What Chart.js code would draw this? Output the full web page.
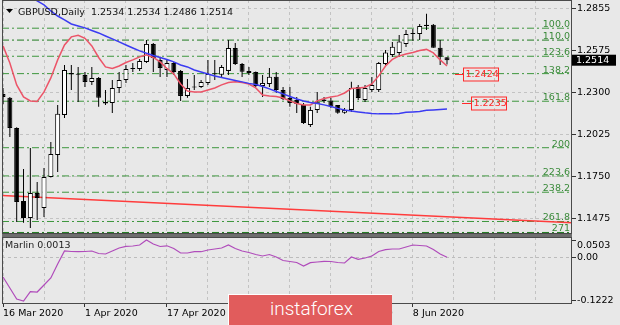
<!DOCTYPE html>
<html>
<head>
<meta charset="utf-8">
<script src="https://cdn.jsdelivr.net/npm/chart.js@4.4.1/dist/chart.umd.min.js"></script>
<style>
  html, body { margin: 0; padding: 0; background: #e8e8e8; }
  #wrap { position: relative; width: 620px; height: 325px; overflow: hidden; }
  #main { position: absolute; left: 0; top: 0; }
  #sub { position: absolute; left: 0; top: 234px; }
  #logo {
    position: absolute; left: 228px; top: 294px; width: 164px; height: 31px;
    box-sizing: border-box; background: #e15c5c;
    border-top: 1px solid #fff; border-left: 1px solid #fff;
    color: #fff; font: 300 19px Roboto, sans-serif; line-height: 28px;
    padding-left: 41px;
  }
</style>
</head>
<body>
<div id="wrap">
  <canvas id="main" width="620" height="234"></canvas>
  <canvas id="sub" width="620" height="91"></canvas>
  <div id="logo">instaforex</div>
</div>
<script>
// GBPUSD daily, 16 Mar - 15 Jun 2020
const dates = [
  '16 Mar 2020', '17 Mar 2020', '18 Mar 2020', '19 Mar 2020', '20 Mar 2020', '23 Mar 2020', '24 Mar 2020',
  '25 Mar 2020', '26 Mar 2020', '27 Mar 2020', '30 Mar 2020', '31 Mar 2020',
  '1 Apr 2020', '2 Apr 2020', '3 Apr 2020', '6 Apr 2020', '7 Apr 2020', '8 Apr 2020', '9 Apr 2020',
  '10 Apr 2020', '13 Apr 2020', '14 Apr 2020', '15 Apr 2020', '16 Apr 2020', '17 Apr 2020', '20 Apr 2020',
  '21 Apr 2020', '22 Apr 2020', '23 Apr 2020', '24 Apr 2020', '27 Apr 2020', '28 Apr 2020', '29 Apr 2020', '30 Apr 2020',
  '1 May 2020', '4 May 2020', '5 May 2020', '6 May 2020', '7 May 2020', '8 May 2020', '11 May 2020',
  '12 May 2020', '13 May 2020', '14 May 2020', '15 May 2020', '18 May 2020', '19 May 2020', '20 May 2020',
  '21 May 2020', '22 May 2020', '25 May 2020', '26 May 2020', '27 May 2020', '28 May 2020', '29 May 2020',
  '1 Jun 2020', '2 Jun 2020', '3 Jun 2020', '4 Jun 2020', '5 Jun 2020', '8 Jun 2020', '9 Jun 2020',
  '10 Jun 2020', '11 Jun 2020', '12 Jun 2020', '15 Jun 2020'
];

const open = [
  1.2293, 1.2268, 1.2070, 1.1591, 1.1479, 1.1643, 1.1545, 1.1748, 1.1893, 1.2155,
  1.2430, 1.2424, 1.2417, 1.2371, 1.2398, 1.2240, 1.2234, 1.2332, 1.2385, 1.2457,
  1.2457, 1.2503, 1.2621, 1.2516, 1.2450, 1.2496, 1.2444, 1.2280, 1.2335, 1.2339,
  1.2365, 1.2422, 1.2418, 1.2444, 1.2594, 1.2489, 1.2443, 1.2437, 1.2345, 1.2358,
  1.2406, 1.2319, 1.2266, 1.2253, 1.2221, 1.2089, 1.2188, 1.2257, 1.2249, 1.2221,
  1.2170, 1.2188, 1.2338, 1.2253, 1.2319, 1.2319, 1.2489, 1.2548, 1.2562, 1.2621,
  1.2686, 1.2686, 1.2739, 1.2746, 1.2595, 1.2534
];
const high = [
  1.2332, 1.2273, 1.2075, 1.1801, 1.1938, 1.1715, 1.1807, 1.1978, 1.2221, 1.2483,
  1.2483, 1.2470, 1.2437, 1.2470, 1.2404, 1.2319, 1.2385, 1.2437, 1.2483, 1.2496,
  1.2522, 1.2647, 1.2627, 1.2536, 1.2516, 1.2503, 1.2450, 1.2391, 1.2417, 1.2385,
  1.2516, 1.2516, 1.2483, 1.2647, 1.2627, 1.2496, 1.2470, 1.2440, 1.2417, 1.2463,
  1.2437, 1.2339, 1.2339, 1.2273, 1.2234, 1.2208, 1.2306, 1.2273, 1.2266, 1.2221,
  1.2201, 1.2372, 1.2352, 1.2352, 1.2404, 1.2503, 1.2581, 1.2634, 1.2680, 1.2713,
  1.2719, 1.2752, 1.2818, 1.2752, 1.2647, 1.2534
];
const low = [
  1.2227, 1.2011, 1.1453, 1.1447, 1.1414, 1.1466, 1.1486, 1.1745, 1.1781, 1.2135,
  1.2319, 1.2240, 1.2339, 1.2352, 1.2208, 1.2221, 1.2168, 1.2299, 1.2365, 1.2437,
  1.2444, 1.2496, 1.2437, 1.2404, 1.2404, 1.2417, 1.2247, 1.2267, 1.2319, 1.2332,
  1.2352, 1.2385, 1.2398, 1.2417, 1.2483, 1.2404, 1.2417, 1.2339, 1.2273, 1.2339,
  1.2299, 1.2253, 1.2208, 1.2168, 1.2095, 1.2076, 1.2168, 1.2234, 1.2201, 1.2162,
  1.2162, 1.2175, 1.2253, 1.2240, 1.2306, 1.2306, 1.2483, 1.2535, 1.2535, 1.2601,
  1.2641, 1.2647, 1.2713, 1.2595, 1.2483, 1.2486
];
const close = [
  1.2273, 1.2070, 1.1584, 1.1479, 1.1643, 1.1610, 1.1748, 1.1899, 1.2162, 1.2450,
  1.2420, 1.2418, 1.2371, 1.2398, 1.2267, 1.2230, 1.2332, 1.2385, 1.2457, 1.2460,
  1.2509, 1.2621, 1.2529, 1.2463, 1.2496, 1.2437, 1.2280, 1.2332, 1.2341, 1.2371,
  1.2424, 1.2426, 1.2470, 1.2594, 1.2489, 1.2439, 1.2430, 1.2345, 1.2365, 1.2406,
  1.2319, 1.2260, 1.2234, 1.2227, 1.2102, 1.2188, 1.2242, 1.2247, 1.2210, 1.2169,
  1.2188, 1.2332, 1.2266, 1.2332, 1.2352, 1.2496, 1.2564, 1.2603, 1.2636, 1.2686,
  1.2688, 1.2739, 1.2746, 1.2595, 1.2536, 1.2514
];

// red (fast) and blue (slow) moving averages
const maFast = [
  1.2608, 1.2496, 1.2352, 1.2273, 1.2247, 1.2244, 1.2306, 1.2398, 1.2516, 1.2614,
  1.2667, 1.2677, 1.2658, 1.2608, 1.2532, 1.2470, 1.2460, 1.2476, 1.2499, 1.2516,
  1.2536, 1.2549, 1.2532, 1.2503, 1.2460, 1.2424, 1.2358, 1.2312, 1.2306, 1.2306,
  1.2319, 1.2332, 1.2352, 1.2368, 1.2372, 1.2368, 1.2358, 1.2332, 1.2286, 1.2280,
  1.2276, 1.2266, 1.2247, 1.2230, 1.2221, 1.2221, 1.2247, 1.2263, 1.2273, 1.2280,
  1.2299, 1.2329, 1.2332, 1.2337, 1.2358, 1.2411, 1.2476, 1.2519, 1.2542, 1.2555,
  1.2565, 1.2578, 1.2585, 1.2562, 1.2516, 1.2476
];
const maSlow = [
  1.3021, 1.2995, 1.2968, 1.2945, 1.2926, 1.2903, 1.2877, 1.2837, 1.2804, 1.2778,
  1.2752, 1.2739, 1.2726, 1.2709, 1.2693, 1.2673, 1.2654, 1.2634, 1.2614, 1.2594,
  1.2575, 1.2560, 1.2545, 1.2532, 1.2519, 1.2503, 1.2483, 1.2470, 1.2450, 1.2437,
  1.2424, 1.2411, 1.2401, 1.2391, 1.2381, 1.2372, 1.2362, 1.2355, 1.2342, 1.2326,
  1.2309, 1.2293, 1.2276, 1.2260, 1.2247, 1.2237, 1.2230, 1.2221, 1.2211, 1.2198,
  1.2188, 1.2181, 1.2175, 1.2169, 1.2165, 1.2162, 1.2162, 1.2162, 1.2165, 1.2172,
  1.2175, 1.2178, 1.2185, 1.2188, 1.2191, 1.2194
];

// Marlin oscillator (lower window)
const marlin = [
  -0.0543, -0.0854, -0.1166, -0.1222, -0.0959, -0.0968, -0.0770, -0.0572, -0.0176, 0.0192,
  0.0178, 0.0172, 0.0178, 0.0192, 0.0121, 0.0107, 0.0192, 0.0277, 0.0325, 0.0333,
  0.0362, 0.0503, 0.0390, 0.0319, 0.0339, 0.0263, 0.0135, 0.0135, 0.0172, 0.0172,
  0.0220, 0.0248, 0.0277, 0.0362, 0.0263, 0.0192, 0.0150, 0.0093, 0.0051, 0.0093,
  0.0022, -0.0077, -0.0105, -0.0133, -0.0232, -0.0139, -0.0119, -0.0099, -0.0105, -0.0133,
  -0.0147, 0.0022, -0.0043, -0.0006, 0.0051, 0.0178, 0.0229, 0.0248, 0.0248, 0.0305,
  0.0362, 0.0347, 0.0333, 0.0234, 0.0107, 0.0013
];

// fibo expansion levels, trend line ends, target labels
const fibLabels = ['100.0', '110.0', '123.6', '138.2', '161.8', '200', '223.6', '238.2', '261.8', '271'];
const fibLevels = [1.2724, 1.2646, 1.2540, 1.2426, 1.2245, 1.1940, 1.1755, 1.1648, 1.1456, 1.1384];
const trendLine = [1.1627, 1.1447];
const targets = [1.2424, 1.2235];

const priceTicks = [1.2855, 1.2575, 1.2300, 1.2025, 1.1750, 1.1475];
const oscTicks = [0.0503, 0.00, -0.1222];

Chart.defaults.font.family = "'DejaVu Sans', sans-serif";
Chart.defaults.font.size = 9.5;
Chart.defaults.color = '#000';

const X_MIN = -0.15, X_MAX = 83.3;
const last = close.length - 1;
const bars = close.map((c, i) => i);
const gridSteps = [];
for (let v = 0; v <= X_MAX; v += 6) gridSteps.push(v);

function fixWidth(w) {
    return function (s) { s.width = w; s.paddingTop = 0; s.paddingBottom = 0; };
}

const framePlugin = {
    id: 'frame',
    afterDraw(chart) {
        const { ctx, chartArea: a } = chart;
        ctx.save();
        ctx.strokeStyle = '#4a4a4a';
        ctx.lineWidth = 1;
        ctx.strokeRect(a.left + 0.5, a.top + 0.5, a.right - a.left - 1, a.bottom - a.top - 1);
        ctx.restore();
    }
};

const mainOverlay = {
    id: 'mainOverlay',
    afterDraw(chart) {
        const { ctx } = chart;
        const xs = chart.scales.x, ys = chart.scales.y;
        ctx.save();

        // fibo labels
        ctx.font = "9.5px 'DejaVu Sans'";
        ctx.fillStyle = '#3a8a3a';
        ctx.textAlign = 'right';
        ctx.textBaseline = 'alphabetic';
        fibLevels.forEach((lvl, i) => {
            ctx.fillText(fibLabels[i], 570, ys.getPixelForValue(lvl) - 1);
        });

        // target labels
        const xl = xs.getPixelForValue(last);
        ctx.textAlign = 'left';
        ctx.textBaseline = 'middle';
        [[8, 16], [15, 24]].forEach((p, i) => {
            const y = Math.round(ys.getPixelForValue(targets[i])) + 0.5;
            ctx.strokeStyle = '#ff2a2a';
            ctx.lineWidth = 1;
            ctx.beginPath();
            ctx.moveTo(xl + p[0], y);
            ctx.lineTo(xl + p[1], y);
            ctx.stroke();
            ctx.strokeRect(Math.round(xl + p[1]) + 0.5, y - 6.5, 35, 13);
            ctx.fillStyle = '#ff2a2a';
            ctx.fillText(targets[i].toFixed(4), xl + p[1] + 2.5, y + 0.5);
        });

        // current price box
        const yp = ys.getPixelForValue(close[last]);
        ctx.fillStyle = '#000';
        ctx.fillRect(572, yp - 5.5, 44, 11);
        ctx.fillStyle = '#fff';
        ctx.fillText(close[last].toFixed(4), 576, yp + 0.5);

        // title
        ctx.fillStyle = '#000';
        ctx.beginPath();
        ctx.moveTo(6, 9);
        ctx.lineTo(13, 9);
        ctx.lineTo(9.5, 13);
        ctx.closePath();
        ctx.fill();
        ctx.fillStyle = '#111';
        ctx.textBaseline = 'alphabetic';
        const t = [open[last], high[last], low[last], close[last]].map(v => v.toFixed(4)).join(' ');
        ctx.fillText('GBPUSD,Daily  ' + t, 18, 15);
        ctx.restore();
    }
};

const subOverlay = {
    id: 'subOverlay',
    afterDraw(chart) {
        const { ctx, chartArea: a } = chart;
        ctx.save();
        ctx.fillStyle = '#6e6e6e';
        ctx.fillRect(a.left, 0, a.right - a.left, a.top);
        ctx.font = "9.5px 'DejaVu Sans'";
        ctx.fillStyle = '#222';
        ctx.textBaseline = 'middle';
        ctx.fillText('Marlin ' + marlin[last].toFixed(4), 5, 12);
        ctx.restore();
    }
};

new Chart(document.getElementById('main'), {
    type: 'line',
    data: {
        datasets: [
            ...fibLevels.map((lvl, i) => ({
                type: 'line',
                data: [{ x: X_MIN, y: lvl }, { x: X_MAX, y: lvl }],
                borderColor: (i === 1 || i === 9) ? '#1f7a1f' : '#3d963d',
                borderWidth: 1,
                borderDash: [7, 3, 2, 3],
                pointRadius: 0,
                order: 10
            })),
            {
                type: 'line',
                data: [{ x: X_MIN, y: trendLine[0] }, { x: X_MAX, y: trendLine[1] }],
                borderColor: '#ff3c3c',
                borderWidth: 1.5,
                pointRadius: 0,
                order: 9
            },
            {
                type: 'bar',
                data: bars.map(i => ({ x: i, y: [low[i], high[i]] })),
                backgroundColor: '#000',
                borderWidth: 0,
                barThickness: 1,
                maxBarThickness: 1,
                inflateAmount: 0,
                grouped: false,
                order: 4
            },
            {
                type: 'bar',
                data: bars.map(i => ({ x: i, y: [Math.min(open[i], close[i]), Math.max(open[i], close[i])] })),
                backgroundColor: bars.map(i => close[i] >= open[i] ? '#ffffff' : '#000000'),
                borderColor: '#000',
                borderWidth: 1,
                borderSkipped: false,
                barThickness: 5,
                maxBarThickness: 5,
                minBarLength: 1,
                inflateAmount: 0,
                grouped: false,
                order: 3
            },
            {
                type: 'line',
                data: bars.map(i => ({ x: i, y: maSlow[i] })),
                borderColor: '#3b3bf2',
                borderWidth: 1.5,
                pointRadius: 0,
                order: 1
            },
            {
                type: 'line',
                data: bars.map(i => ({ x: i, y: maFast[i] })),
                borderColor: '#ec5468',
                borderWidth: 1.5,
                pointRadius: 0,
                order: 1
            }
        ]
    },
    options: {
        responsive: false,
        animation: false,
        devicePixelRatio: 1,
        events: [],
        layout: { padding: { left: 2, top: 0, right: 0, bottom: 0 } },
        plugins: { legend: { display: false }, tooltip: { enabled: false } },
        scales: {
            x: {
                type: 'linear', min: X_MIN, max: X_MAX, offset: false,
                afterBuildTicks: s => { s.ticks = gridSteps.map(v => ({ value: v })); },
                afterFit: s => { s.height = 0; s.paddingLeft = 0; s.paddingRight = 0; },
                ticks: { display: false },
                grid: { color: '#c3c3c3', drawTicks: false, offset: false },
                border: { display: false, dash: [3, 3] }
            },
            y: {
                position: 'right', min: 1.1374, max: 1.2909,
                afterBuildTicks: s => { s.ticks = priceTicks.map(v => ({ value: v })); },
                afterFit: fixWidth(48),
                ticks: { padding: 1, callback: v => v.toFixed(4) },
                grid: { color: '#c3c3c3', tickLength: 4, tickColor: '#333', tickBorderDash: [] },
                border: { display: false, dash: [3, 3] }
            }
        }
    },
    plugins: [framePlugin, mainOverlay]
});

new Chart(document.getElementById('sub'), {
    type: 'line',
    data: {
        datasets: [{
            data: bars.map(i => ({ x: i, y: marlin[i] })),
            borderColor: '#b04cbb',
            borderWidth: 1.2,
            pointRadius: 0
        }]
    },
    options: {
        responsive: false,
        animation: false,
        devicePixelRatio: 1,
        events: [],
        layout: { padding: { left: 2, top: 3, right: 0, bottom: 0 } },
        plugins: { legend: { display: false }, tooltip: { enabled: false } },
        scales: {
            x: {
                type: 'linear', min: X_MIN, max: X_MAX, offset: false,
                afterBuildTicks: s => { s.ticks = gridSteps.map(v => ({ value: v })); },
                afterFit: s => { s.height = 21; s.paddingLeft = 0; s.paddingRight = 0; },
                ticks: {
                    align: 'start', padding: 1, maxRotation: 0, autoSkip: false,
                    callback: v => (v % 12 === 0 && dates[v]) ? dates[v] : ''
                },
                grid: {
                    color: '#c3c3c3', tickLength: 3, offset: false, tickBorderDash: [],
                    tickColor: c => (c.tick && c.tick.value % 12 === 0 && dates[c.tick.value]) ? '#333' : 'rgba(0,0,0,0)'
                },
                border: { display: false, dash: [3, 3] }
            },
            y: {
                position: 'right', min: -0.1307, max: 0.0588,
                afterBuildTicks: s => { s.ticks = oscTicks.map(v => ({ value: v })); },
                afterFit: fixWidth(48),
                ticks: {
                    padding: 1,
                    callback: v => v === 0 ? '0.00' : (v > 0 ? ['', v.toFixed(4)] : v.toFixed(4))
                },
                grid: {
                    color: c => (c.tick && c.tick.value === 0) ? '#bcbcbc' : 'rgba(0,0,0,0)',
                    tickLength: 4, tickColor: '#333', tickBorderDash: []
                },
                border: { display: false, dash: [3, 3] }
            }
        }
    },
    plugins: [framePlugin, subOverlay]
});
</script>
</body>
</html>
